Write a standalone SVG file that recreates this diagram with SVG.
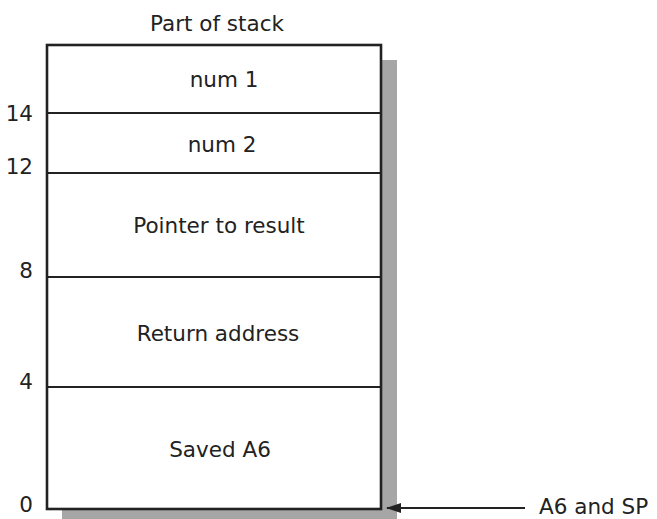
<svg xmlns="http://www.w3.org/2000/svg" width="657" height="519" viewBox="0 0 657 519">
  <style>
    text { font-family: "DejaVu Sans", "Liberation Sans", sans-serif; fill: #222; font-size: 21.5px; }
    .cell { fill: #fff; stroke: #222; stroke-width: 2; }
    .mid { text-anchor: middle; }
    .off { text-anchor: end; }
    .conn { stroke: #222; stroke-width: 2.2; fill: none; }
  </style>
  <defs>
    <marker id="arrowhead" viewBox="0 0 15 10" refX="14" refY="5" markerWidth="15" markerHeight="10" markerUnits="userSpaceOnUse" orient="auto">
      <path d="M0,0 L15,5 L0,10 Z" fill="#222"/>
    </marker>
  </defs>
  <rect width="657" height="519" fill="#fff"/>

  <!-- drop shadow behind the stack -->
  <rect x="62" y="60" width="335" height="470" fill="#a6a6a6"/>

  <text id="title" class="mid" x="217" y="31">Part of stack</text>

  <g id="cell-num1">
    <rect class="cell" x="47" y="45" width="334" height="68"/>
    <text class="mid" x="224" y="87">num 1</text>
  </g>
  <g id="cell-num2">
    <rect class="cell" x="47" y="113" width="334" height="60"/>
    <text class="mid" x="222" y="152">num 2</text>
  </g>
  <g id="cell-pointer">
    <rect class="cell" x="47" y="173" width="334" height="104"/>
    <text class="mid" x="219" y="233">Pointer to result</text>
  </g>
  <g id="cell-return">
    <rect class="cell" x="47" y="277" width="334" height="110"/>
    <text class="mid" x="218" y="341">Return address</text>
  </g>
  <g id="cell-saved">
    <rect class="cell" x="47" y="387" width="334" height="122"/>
    <text class="mid" x="220" y="457">Saved A6</text>
  </g>
  <!-- heavier outline around the whole stack -->
  <rect x="47" y="45" width="334" height="464" fill="none" stroke="#222" stroke-width="2.6"/>

  <g id="offsets">
    <text class="off" x="33" y="121">14</text>
    <text class="off" x="33" y="174">12</text>
    <text class="off" x="33" y="278">8</text>
    <text class="off" x="33" y="389">4</text>
    <text class="off" x="33" y="512">0</text>
  </g>

  <g id="connectors">
    <line class="conn" x1="525" y1="508" x2="387" y2="508" marker-end="url(#arrowhead)"/>
  </g>
  <g id="pointer-label">
    <text x="539" y="514">A6 and SP</text>
  </g>
</svg>
